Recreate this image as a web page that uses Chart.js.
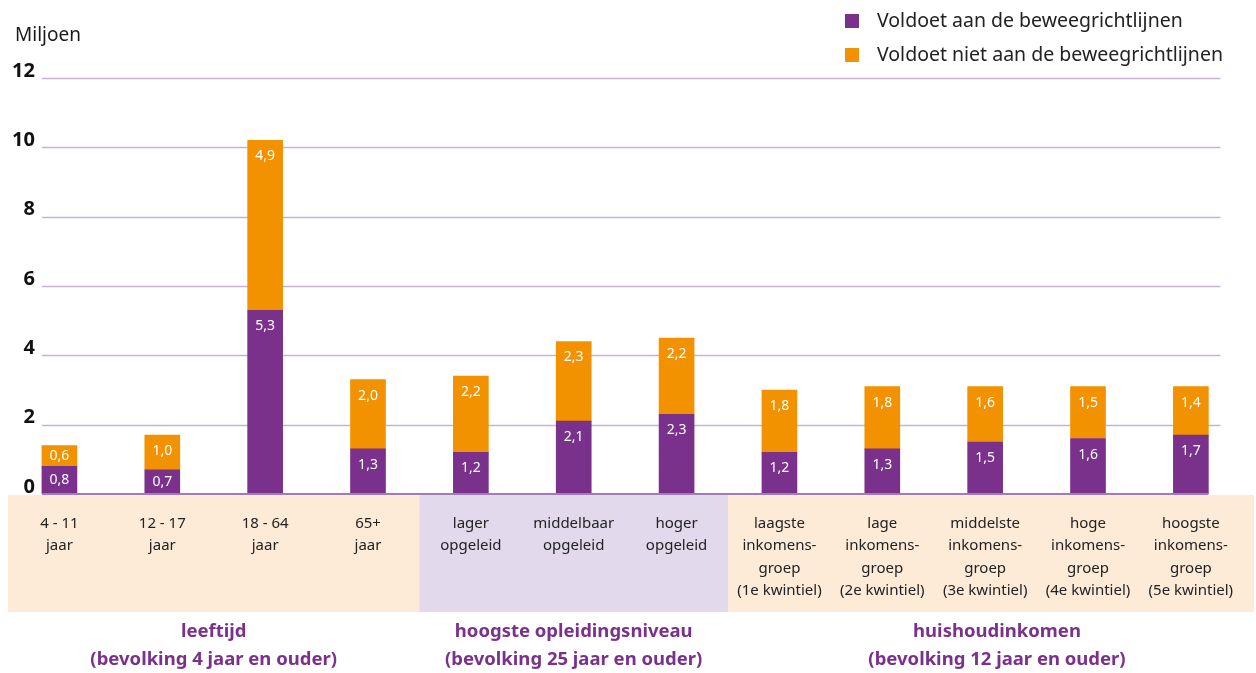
<!DOCTYPE html>
<html><head><meta charset="utf-8">
<script src="https://cdn.jsdelivr.net/npm/chart.js@4/dist/chart.umd.min.js"></script>
<style>html,body{margin:0;padding:0;background:#fff;}#wrap{width:1256px;height:673px;position:relative;}</style>
</head><body><div id="wrap"><canvas id="c" width="1256" height="673"></canvas></div>
<script>
const categories = [
  ["4 - 11","jaar"],["12 - 17","jaar"],["18 - 64","jaar"],["65+","jaar"],
  ["lager","opgeleid"],["middelbaar","opgeleid"],["hoger","opgeleid"],
  ["laagste","inkomens-","groep","(1e kwintiel)"],["lage","inkomens-","groep","(2e kwintiel)"],
  ["middelste","inkomens-","groep","(3e kwintiel)"],["hoge","inkomens-","groep","(4e kwintiel)"],
  ["hoogste","inkomens-","groep","(5e kwintiel)"]
];
const voldoet     = [0.8, 0.7, 5.3, 1.3, 1.2, 2.1, 2.3, 1.2, 1.3, 1.5, 1.6, 1.7];
const voldoetNiet = [0.6, 1.0, 4.9, 2.0, 2.2, 2.3, 2.2, 1.8, 1.8, 1.6, 1.5, 1.4];
const seriesLabels = ["Voldoet aan de beweegrichtlijnen","Voldoet niet aan de beweegrichtlijnen"];
const yTickValues = [0, 2, 4, 6, 8, 10, 12];
const yTitle = "Miljoen";
const groupNames = [
  ["leeftijd","(bevolking 4 jaar en ouder)"],
  ["hoogste opleidingsniveau","(bevolking 25 jaar en ouder)"],
  ["huishoudinkomen","(bevolking 12 jaar en ouder)"]
];
const groupSizes = [4, 3, 5];

const PURPLE = '#7A318B', ORANGE = '#F39200';
const BAND_COLORS = ['#FDEBD8', '#E2D9EC', '#FDEBD8'];
const FONT = '"Noto Sans", "DejaVu Sans", sans-serif';
const BAR_W = 35;

const decor = {
  id: 'decor',
  beforeDraw(chart) {
    const {ctx, chartArea, scales} = chart;
    const xs = scales.x, ys = scales.y;
    const slot = xs.width / categories.length;
    const y0 = ys.getPixelForValue(0);
    let start = 0;
    groupSizes.forEach((n, g) => {
      let l = xs.left + start * slot;
      let r = xs.left + (start + n) * slot;
      if (g === groupSizes.length - 1) r = chart.width - 2;
      ctx.fillStyle = BAND_COLORS[g];
      ctx.fillRect(l, y0 + 1, r - l, 117);
      start += n;
    });
    const gl = xs.getPixelForValue(0) - BAR_W / 2;
    const gr = xs.getPixelForValue(categories.length - 1) + BAR_W / 2;
    ctx.save();
    ys.ticks.forEach(t => {
      if (t.value === 0) return;
      const y = Math.round(ys.getPixelForValue(t.value)) + 0.5;
      ctx.strokeStyle = '#C8B1D8';
      ctx.lineWidth = 1.5;
      ctx.beginPath(); ctx.moveTo(gl, y); ctx.lineTo(gr + 12, y); ctx.stroke();
    });
    ctx.restore();
  },
  afterDatasetsDraw(chart) {
    const {ctx, scales} = chart;
    const xs = scales.x, ys = scales.y;
    const y0 = ys.getPixelForValue(0);
    const gl = xs.getPixelForValue(0) - BAR_W / 2;
    const gr = xs.getPixelForValue(categories.length - 1) + BAR_W / 2;
    ctx.save();
    ctx.strokeStyle = '#A27BBB';
    ctx.lineWidth = 2;
    ctx.beginPath(); ctx.moveTo(gl, y0); ctx.lineTo(gr, y0); ctx.stroke();
    ctx.fillStyle = '#fff';
    ctx.font = '14px ' + FONT;
    ctx.textAlign = 'center';
    ctx.textBaseline = 'middle';
    chart.data.datasets.forEach((ds, di) => {
      const meta = chart.getDatasetMeta(di);
      meta.data.forEach((el, i) => {
        const p = el.getProps(['x', 'y', 'base'], true);
        const top = Math.min(p.y, p.base), bot = Math.max(p.y, p.base);
        const ty = Math.min(top + 16, (top + bot) / 2);
        ctx.fillText(ds.data[i].toFixed(1).replace('.', ','), p.x, ty);
      });
    });
    ctx.fillStyle = '#1a1a1a';
    ctx.font = '19px ' + FONT;
    ctx.textAlign = 'left';
    ctx.fillText(yTitle, 15, 36);
    ctx.font = '19.5px ' + FONT;
    chart.data.datasets.forEach((ds, di) => {
      const cy = 21 + di * 34;
      ctx.fillStyle = ds.backgroundColor;
      ctx.fillRect(845, cy - 7, 14, 14);
      ctx.fillStyle = '#222';
      ctx.fillText(ds.label, 877, cy);
    });
    const slot = xs.width / categories.length;
    let start = 0;
    ctx.fillStyle = PURPLE;
    ctx.font = 'bold 18.5px ' + FONT;
    ctx.textAlign = 'center';
    groupSizes.forEach((n, g) => {
      let l = xs.left + start * slot;
      let r = xs.left + (start + n) * slot;
      if (g === groupSizes.length - 1) r = chart.width + 10;
      const cx = (l + r) / 2;
      groupNames[g].forEach((line, k) => ctx.fillText(line, cx, 632 + k * 28));
      start += n;
    });
    ctx.restore();
  }
};

new Chart(document.getElementById('c'), {
  type: 'bar',
  data: {
    labels: categories,
    datasets: [
      {label: seriesLabels[0], data: voldoet, backgroundColor: PURPLE, barThickness: BAR_W},
      {label: seriesLabels[1], data: voldoetNiet, backgroundColor: ORANGE, barThickness: BAR_W}
    ]
  },
  options: {
    responsive: false,
    animation: false,
    devicePixelRatio: 1,
    layout: {padding: {left: 0, right: 13.7, top: 78, bottom: 0}},
    plugins: {legend: {display: false}, tooltip: {enabled: false}, title: {display: false}},
    scales: {
      x: {
        stacked: true,
        offset: true,
        grid: {display: false, drawTicks: false},
        border: {display: false},
        ticks: {
          autoSkip: false, maxRotation: 0, minRotation: 0,
          padding: 18, color: '#222',
          font: {family: FONT, size: 15, lineHeight: 1.5}
        },
        afterFit(scale) { scale.height = 179; }
      },
      y: {
        stacked: true,
        min: 0, max: 12,
        afterBuildTicks(scale) { scale.ticks = yTickValues.map(v => ({value: v})); },
        grid: {display: false, drawTicks: false},
        border: {display: false},
        ticks: {
          mirror: true, crossAlign: 'far', padding: 4, labelOffset: -7,
          color: '#111',
          font: {family: FONT, size: 20, weight: 'bold'}
        }
      }
    }
  },
  plugins: [decor]
});
</script></body></html>
